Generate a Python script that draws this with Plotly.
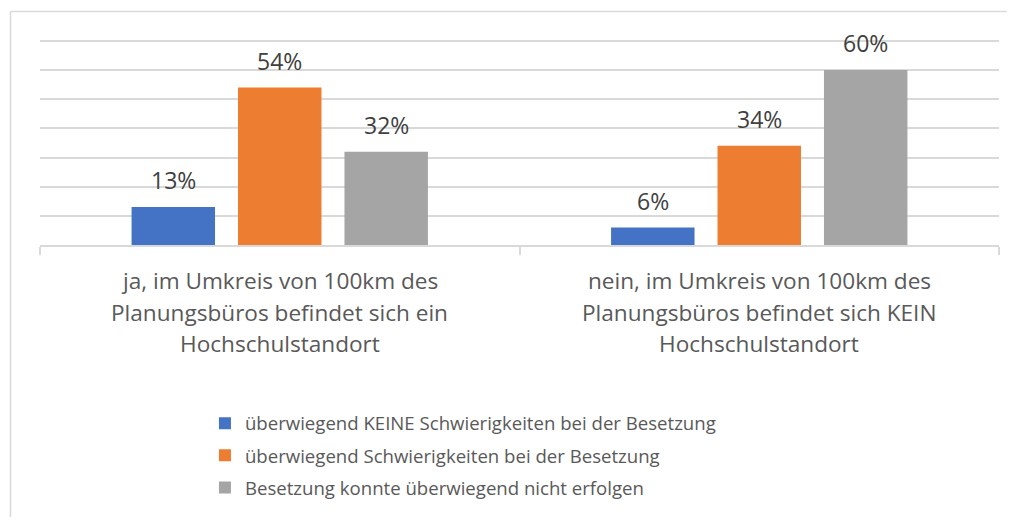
import plotly.graph_objects as go

# categories (x) and their wrapped label lines
categories = [
    "ja, im Umkreis von 100km des Planungsbüros befindet sich ein Hochschulstandort",
    "nein, im Umkreis von 100km des Planungsbüros befindet sich KEIN Hochschulstandort",
]
category_lines = [
    ["ja, im Umkreis von 100km des", "Planungsbüros befindet sich ein", "Hochschulstandort"],
    ["nein, im Umkreis von 100km des", "Planungsbüros befindet sich KEIN", "Hochschulstandort"],
]

series_names = [
    "überwiegend KEINE Schwierigkeiten bei der Besetzung",
    "überwiegend Schwierigkeiten bei der Besetzung",
    "Besetzung konnte überwiegend nicht erfolgen",
]
keine_schwierigkeiten = [0.13, 0.06]
schwierigkeiten = [0.54, 0.34]
nicht_erfolgt = [0.32, 0.60]

series_values = [keine_schwierigkeiten, schwierigkeiten, nicht_erfolgt]
colors = ["#4472C4", "#ED7D31", "#A5A5A5"]

FONT = "Open Sans"
BARGAP = 0.334
BORDER = "#d9d9d9"

fig = go.Figure()
for k, (name, vals) in enumerate(zip(series_names, series_values)):
    fig.add_trace(
        go.Bar(
            x=categories,
            y=vals,
            name=name,
            legendgroup=str(k),
            marker=dict(color=colors[k], line=dict(width=0)),
        )
    )

annotations = []
# data labels above the bars
slot = (1 - BARGAP) / len(series_values)
for k, vals in enumerate(series_values):
    for i, v in enumerate(vals):
        annotations.append(
            dict(
                x=i + (k - 1) * slot,
                y=v,
                xref="x",
                yref="y",
                text=f"{v:.0%}",
                showarrow=False,
                yanchor="middle",
                yshift=27,
                font=dict(family=FONT, size=23, color="#404040"),
            )
        )

# category labels, one annotation per line
line_shifts = [-35, -67, -98]
for i, lines in enumerate(category_lines):
    for j, line in enumerate(lines):
        annotations.append(
            dict(
                x=i,
                y=0,
                xref="x",
                yref="paper",
                text=line,
                showarrow=False,
                yanchor="middle",
                yshift=line_shifts[j],
                font=dict(family=FONT, size=22.6, color="#595959"),
            )
        )

# page body has an 8px margin on each side; keep the figure inside the window
fig.update_layout(
    width=999,
    height=509,
    margin=dict(l=32, r=8, t=30, b=272),
    paper_bgcolor="white",
    plot_bgcolor="white",
    barmode="group",
    bargap=BARGAP,
    bargroupgap=0.216,
    font=dict(family=FONT, size=22, color="#595959"),
    showlegend=True,
    legend=dict(
        x=0.172,
        y=-0.771,
        xanchor="left",
        yanchor="top",
        tracegroupgap=5,
        font=dict(family=FONT, size=18.6, color="#595959"),
        bgcolor="rgba(0,0,0,0)",
    ),
    annotations=annotations,
    shapes=[
        # chart-area frame: only its left and top edges fall inside the picture
        dict(type="line", xref="paper", yref="paper",
             x0=-0.0308, x1=-0.0308, y0=-1.32, y1=1.1286,
             line=dict(color=BORDER, width=1.5), layer="below"),
        dict(type="line", xref="paper", yref="paper",
             x0=-0.0308, x1=1.008, y0=1.1286, y1=1.1286,
             line=dict(color=BORDER, width=1.5), layer="below"),
    ],
)
fig.update_xaxes(
    range=[-0.5, 1.5],
    showticklabels=False,
    showline=True,
    linecolor=BORDER,
    linewidth=1.5,
    ticks="outside",
    tickson="boundaries",
    ticklen=8,
    tickcolor=BORDER,
    tickwidth=1.5,
    showgrid=False,
)
fig.update_yaxes(
    range=[0, 0.71],
    dtick=0.1,
    showticklabels=False,
    showgrid=True,
    gridcolor=BORDER,
    gridwidth=1.5,
    zeroline=False,
)

fig.write_html("out.html")
